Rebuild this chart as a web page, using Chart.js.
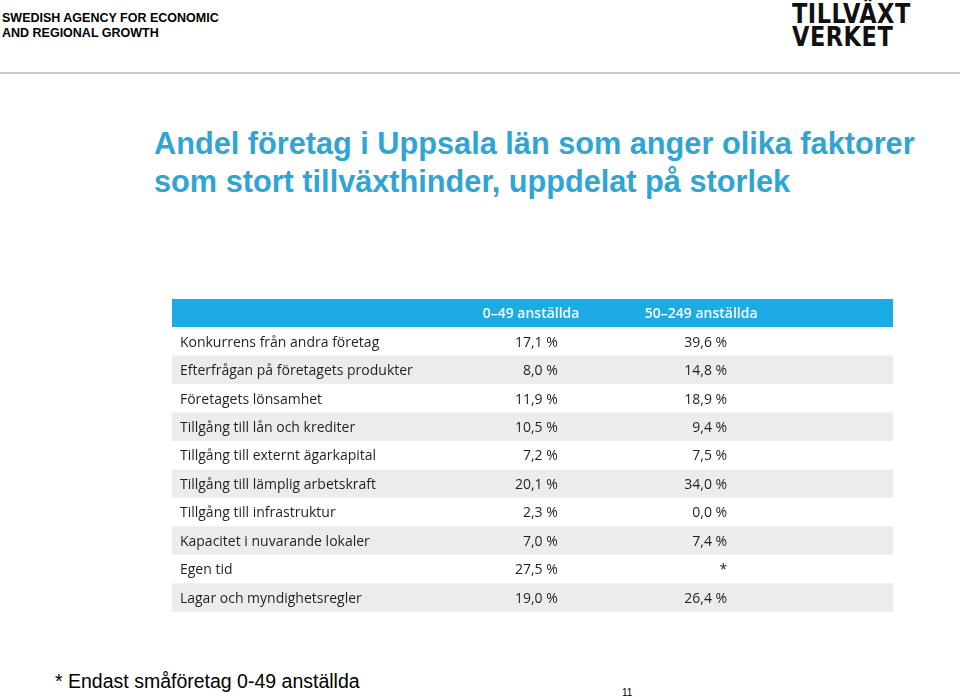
<!DOCTYPE html>
<html>
<head>
<meta charset="utf-8">
<script src="https://cdn.jsdelivr.net/npm/chart.js@4"></script>
<style>
  body { margin: 0; width: 960px; height: 697px; position: relative; background: #fff; font-family: Arial, "Liberation Sans", sans-serif; overflow: hidden; }
  .agency { position: absolute; left: 2px; top: 11px; font-size: 12.5px; font-weight: bold; line-height: 15px; color: #000; }
  .logo { position: absolute; left: 792px; top: 3px; font-family: "Liberation Sans Narrow", "DejaVu Sans Condensed", sans-serif; font-weight: bold; font-size: 25px; line-height: 22px; letter-spacing: 0.5px; color: #111; transform: scale(1, 1.05); transform-origin: 0 0; }
  .rule { position: absolute; left: 0; top: 72px; width: 960px; height: 2px; background: #c8c8c8; }
  h1 { position: absolute; left: 154px; top: 125px; margin: 0; font-size: 31px; line-height: 38px; font-weight: bold; color: #30a5d5; transform: scaleX(0.99); transform-origin: 0 0; }
  #wrap { position: absolute; left: 172px; top: 299px; width: 721px; height: 313px; }
  .note { position: absolute; left: 55px; top: 670px; font-size: 19.5px; color: #000; }
  .page { position: absolute; left: 622px; top: 687px; font-size: 10px; color: #000; }
</style>
</head>
<body>
<div class="agency">SWEDISH AGENCY FOR ECONOMIC<br>AND REGIONAL GROWTH</div>
<div class="logo">TILLVÄXT<br>VERKET</div>
<div class="rule"></div>
<h1>Andel företag i Uppsala län som anger olika faktorer<br>som stort tillväxthinder, uppdelat på storlek</h1>
<div id="wrap"><canvas id="table"></canvas></div>
<div class="note">* Endast småföretag 0-49 anställda</div>
<div class="page">11</div>
<script>
// Data
const columns = ['0–49 anställda', '50–249 anställda']
const factors = [
    'Konkurrens från andra företag',
    'Efterfrågan på företagets produkter',
    'Företagets lönsamhet',
    'Tillgång till lån och krediter',
    'Tillgång till externt ägarkapital',
    'Tillgång till lämplig arbetskraft',
    'Tillgång till infrastruktur',
    'Kapacitet i nuvarande lokaler',
    'Egen tid',
    'Lagar och myndighetsregler',
]
const small = ['17,1 %', '8,0 %', '11,9 %', '10,5 %', '7,2 %', '20,1 %', '2,3 %', '7,0 %', '27,5 %', '19,0 %']
const medium = ['39,6 %', '14,8 %', '18,9 %', '9,4 %', '7,5 %', '34,0 %', '0,0 %', '7,4 %', '*', '26,4 %']

// Colors
const headBlue = '#1aace2'
const rowGray = '#ececec'
const textGray = '#231f20'

const rows = ['header'].concat(factors)
const fills = rows.map((r, i) => (i === 0 ? headBlue : i % 2 === 0 ? rowGray : '#ffffff'))

// column anchors on the 0..1 x scale
const labelX = 0.011
const valueX = [0.535, 0.77]
const headX = [0.498, 0.734]

const cellText = {
    id: 'cellText',
    afterDatasetsDraw(chart) {
        const { ctx, scales } = chart
        const x = scales.x
        const y = scales.y
        ctx.save()
        ctx.textBaseline = 'middle'
        ctx.font = '600 14px "Open Sans"'
        ctx.fillStyle = '#ffffff'
        ctx.textAlign = 'center'
        columns.forEach((c, j) => {
            ctx.fillText(c, x.getPixelForValue(headX[j]), y.getPixelForValue(0) + 1)
        })
        ctx.font = '14px "Open Sans"'
        ctx.fillStyle = textGray
        factors.forEach((f, i) => {
            const py = y.getPixelForValue(i + 1) + 1
            ctx.textAlign = 'left'
            ctx.fillText(f, x.getPixelForValue(labelX), py)
            ctx.textAlign = 'right'
            ctx.fillText(small[i], x.getPixelForValue(valueX[0]), py)
            ctx.fillText(medium[i], x.getPixelForValue(valueX[1]), py)
        })
        ctx.restore()
    },
}

new Chart(document.getElementById('table'), {
    type: 'bar',
    data: {
        labels: rows,
        datasets: [
            {
                data: rows.map(() => 1),
                backgroundColor: fills,
                borderWidth: 0,
                barPercentage: 1,
                categoryPercentage: 1,
            },
        ],
    },
    options: {
        indexAxis: 'y',
        responsive: true,
        maintainAspectRatio: false,
        animation: false,
        layout: { padding: 0 },
        plugins: { legend: { display: false }, tooltip: { enabled: false } },
        scales: {
            x: { type: 'linear', min: 0, max: 1, display: false },
            y: { display: false, offset: true },
        },
    },
    plugins: [cellText],
})
</script>
</body>
</html>
